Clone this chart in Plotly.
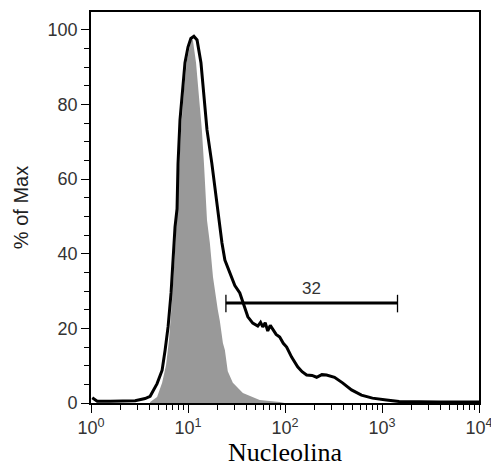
import math
import plotly.graph_objects as go

# ---- data ----
# Black outlined histogram (Nucleolina stained)
stain_x = [1.03, 1.16, 1.58, 2.85, 3.61, 4.07, 4.80, 5.41, 5.81, 6.23, 6.69, 7.01, 7.35, 7.71,
           7.89, 8.27, 8.67, 9.31, 10.0, 10.7, 11.5, 12.4, 13.6, 14.6, 15.7, 17.6, 19.4, 21.3,
           22.4, 24.0, 27.0, 30.4, 34.2, 38.5, 41.4, 46.5, 52.4, 56.0, 59.0, 62.5, 66.4, 70.5, 74.8,
           81.0, 88.2, 96.0, 104, 117, 135, 150, 167, 190, 212, 240, 268, 295, 324, 392, 485,
           614, 797, 1110, 1500, 3890, 10000]
stain_y = [1.4, 0.5, 0.5, 0.6, 1.2, 1.8, 5.2, 8.8, 14.2, 20.4, 29.5, 38.3, 47.2, 52.0,
           64.1, 75.9, 82.0, 91.2, 95.4, 97.7, 98.3, 97.3, 91.2, 82.0, 73.2, 64.3, 55.2, 46.6,
           42.9, 38.3, 35.0, 31.5, 29.5, 25.7, 23.1, 21.4, 20.6, 21.6, 20.4, 21.5, 19.3, 20.8, 19.6,
           18.4, 17.7, 16.0, 15.0, 12.3, 9.7, 8.4, 7.5, 7.4, 6.9, 7.6, 7.5, 7.2, 6.9, 5.4, 3.5,
           2.1, 1.3, 0.8, 0.4, 0.3, 0.3]

# Grey filled histogram (control)
ctrl_x = [4.07, 4.80, 5.41, 5.94, 6.37, 6.85, 7.35, 7.89, 8.47, 9.08, 9.75, 10.7, 11.2,
          12.1, 13.0, 13.9, 14.6, 15.7, 16.8, 18.1, 20.3, 21.3, 22.9, 24.0, 25.7, 29.0,
          36.8, 46.5, 54.8, 88.2, 99.0]
ctrl_y = [0.3, 1.6, 5.4, 10.2, 16.9, 27.6, 40.8, 56.8, 73.2, 83.9, 91.9, 96.8, 97.5,
          91.2, 82.0, 73.2, 64.3, 49.0, 42.9, 33.8, 24.9, 22.0, 16.1, 14.2, 8.5, 5.4,
          2.7, 1.6, 0.8, 0.3, 0.0]

# Gate marker
gate_lo = 24.6
gate_hi = 1445
gate_y = 26.8
gate_label = "32"

x_tickvals = [1, 10, 100, 1000, 10000]
x_ticktext = ["10<sup>0</sup>", "10<sup>1</sup>", "10<sup>2</sup>", "10<sup>3</sup>", "10<sup>4</sup>"]
y_tickvals = [0, 20, 40, 60, 80, 100]

minor_x = [m * d for d in [1, 10, 100, 1000] for m in range(2, 10)]

fig = go.Figure()
fig.add_trace(go.Scatter(x=ctrl_x, y=ctrl_y, mode="lines", line=dict(width=0, color="#999999"),
                         fill="tozeroy", fillcolor="#999999", showlegend=False, hoverinfo="skip"))
fig.add_trace(go.Scatter(x=stain_x, y=stain_y, mode="lines", line=dict(width=3, color="black"),
                         showlegend=False))

# gate bar
fig.add_shape(type="line", x0=gate_lo, x1=gate_hi, y0=gate_y, y1=gate_y, xref="x", yref="y",
              line=dict(color="black", width=3))
for gx in [gate_lo, gate_hi]:
    fig.add_shape(type="line", x0=gx, x1=gx, y0=gate_y - 2.5, y1=gate_y + 2.2, xref="x", yref="y",
                  line=dict(color="black", width=1.3))
fig.add_annotation(x=0.5 * (math.log10(gate_lo) + math.log10(gate_hi)),
                   y=gate_y + 4, xref="x", yref="y", text=gate_label, showarrow=False,
                   font=dict(family="Liberation Sans, Arial", size=17, color="#333333"))

fig.update_layout(
    width=491, height=473,
    margin=dict(l=91, r=12, t=12, b=70),
    plot_bgcolor="white", paper_bgcolor="white",
    xaxis=dict(type="log", range=[0, 4], tickvals=x_tickvals, ticktext=x_ticktext,
               ticks="outside", ticklen=8, tickwidth=1.3, tickcolor="black",
               showline=True, linecolor="black", linewidth=1.6, mirror=True,
               showgrid=False, zeroline=False, automargin=False, ticklabeloverflow="allow",
               tickfont=dict(family="Liberation Sans, Arial", size=18, color="#333333"),
               minor=dict(tickvals=minor_x, ticks="outside", ticklen=5, tickwidth=1.1,
                          tickcolor="black", showgrid=False),
               title=dict(text="Nucleolina", font=dict(family="Liberation Serif, Times New Roman",
                                                       size=26, color="black"), standoff=4)),
    yaxis=dict(range=[0, 104.8], tickvals=y_tickvals, ticks="outside", ticklen=8, tickwidth=1.3,
               tickcolor="black", showline=True, linecolor="black", linewidth=1.6, mirror=True,
               showgrid=False, zeroline=False, automargin=False, ticklabeloverflow="allow",
               tickfont=dict(family="Liberation Sans, Arial", size=18, color="#333333"),
               minor=dict(dtick=5, ticks="outside", ticklen=5, tickwidth=1.1,
                          tickcolor="black", showgrid=False),
               title=dict(text="% of Max", font=dict(family="Liberation Sans, Arial",
                                                     size=20, color="#222222"), standoff=14)),
)

fig.write_html("out.html")
